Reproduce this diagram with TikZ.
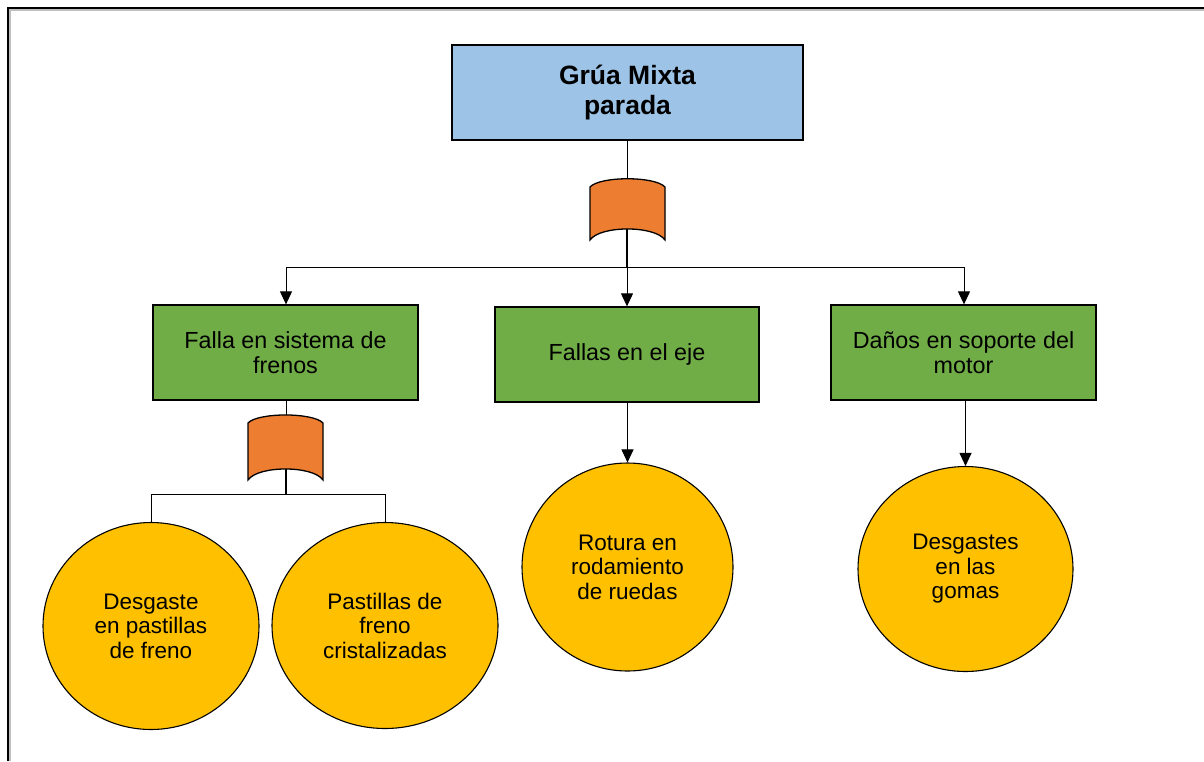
\documentclass[tikz,border=0pt]{standalone}
\usepackage{fontspec}
\setmainfont{Liberation Sans}
\usetikzlibrary{arrows.meta,shapes.geometric}
\definecolor{topblue}{HTML}{9DC3E6}
\definecolor{boxgreen}{HTML}{70AD47}
\definecolor{gateorange}{HTML}{ED7D31}
\definecolor{eventgold}{HTML}{FFC000}
\tikzset{
  topbox/.style={draw=black, line width=1.3pt, fill=topblue, rectangle, inner sep=0pt,
    minimum width=351pt, minimum height=95pt, align=center,
    font=\fontsize{26.5}{30}\selectfont\bfseries},
  midbox/.style={draw=black, line width=1.3pt, fill=boxgreen, rectangle, inner sep=0pt,
    minimum width=265pt, minimum height=95pt, align=center,
    font=\fontsize{23.3}{25.5}\selectfont},
  event/.style={draw=black, line width=1.1pt, fill=eventgold, ellipse, inner sep=0pt,
    align=center, font=\fontsize{22.5}{24.5}\selectfont},
  gatefill/.style={draw=black, line width=1.3pt, fill=gateorange},
  conn/.style={draw=black, line width=1pt},
  arr/.style={conn, -{Triangle[length=13pt,width=12pt]}},
  thickconn/.style={draw=black, line width=2pt},
}
\begin{document}
\begin{tikzpicture}[x=1pt,y=-1pt]
\useasboundingbox (0,0) rectangle (1204,761);
\fill[white] (0,0) rectangle (1204,761);
% frame
\draw[line width=1.5pt, black!25] (10,761) -- (10,10) -- (1204,10);
\draw[line width=1.5pt] (8,761) -- (8,8) -- (1204,8);

% nodes
\node[topbox] (top) at (627.5,92.5) {Grúa Mixta\\parada};
\node[midbox] (b1) at (285.5,352.5) {Falla en sistema de\\frenos};
\node[midbox, minimum width=264pt] (b2) at (627,354.5) {Fallas en el eje};
\node[midbox] (b3) at (963.5,352.5) {Daños en soporte del\\motor};

\node[event, minimum width=216pt, minimum height=207pt] (e1) at (151,626) {Desgaste\\en pastillas\\de freno};
\node[event, minimum width=226pt, minimum height=206pt] (e2) at (385,625.5) {Pastillas de\\freno\\cristalizadas};
\node[event, minimum width=211pt, minimum height=208pt] (e3) at (627.5,567) {Rotura en\\rodamiento\\de ruedas};
\node[event, minimum width=215pt, minimum height=205pt] (e4) at (965.5,569) {Desgastes\\en las\\gomas};

% gate 1
\draw[gatefill] (590,187) .. controls (600,176) and (655,176) .. (665,187)
  -- (665,240) .. controls (655,225.3) and (600,225.3) .. (590,240) -- cycle;
\coordinate (g1in) at (627,178);
\coordinate (g1out) at (627,229);
\coordinate (j1) at (627,267);
\coordinate (j1l) at (286,267);
\coordinate (j1r) at (964,267);

% gate 2
\draw[gatefill] (248,423) .. controls (258,412.3) and (313,412.3) .. (323,423)
  -- (323,480) .. controls (313,465.3) and (258,465.3) .. (248,480) -- cycle;
\coordinate (g2in) at (286,415);
\coordinate (g2out) at (286,469);
\coordinate (j2) at (286,494);
\coordinate (j2l) at (151,494);
\coordinate (j2r) at (385,494);

% connectors
\draw[conn] (top.south -| g1in) -- (g1in);
\draw[thickconn] (g1out) -- (j1);
\draw[conn] (j1l) -- (j1r);
\draw[arr] (j1) -- (b2.north);
\draw[arr] (j1l) -- (b1.north -| j1l);
\draw[arr] (j1r) -- (b3.north -| j1r);

\draw[conn] (b1.south -| g2in) -- (g2in);
\draw[thickconn] (g2out) -- (j2);
\draw[conn] (j2l) -- (j2r);
\draw[conn] (j2l) -- (e1.north);
\draw[conn] (j2r) -- (e2.north);

\draw[arr] (b2.south -| e3.north) -- (e3.north);
\draw[arr] (b3.south -| e4.north) -- (e4.north);
\end{tikzpicture}
\end{document}
